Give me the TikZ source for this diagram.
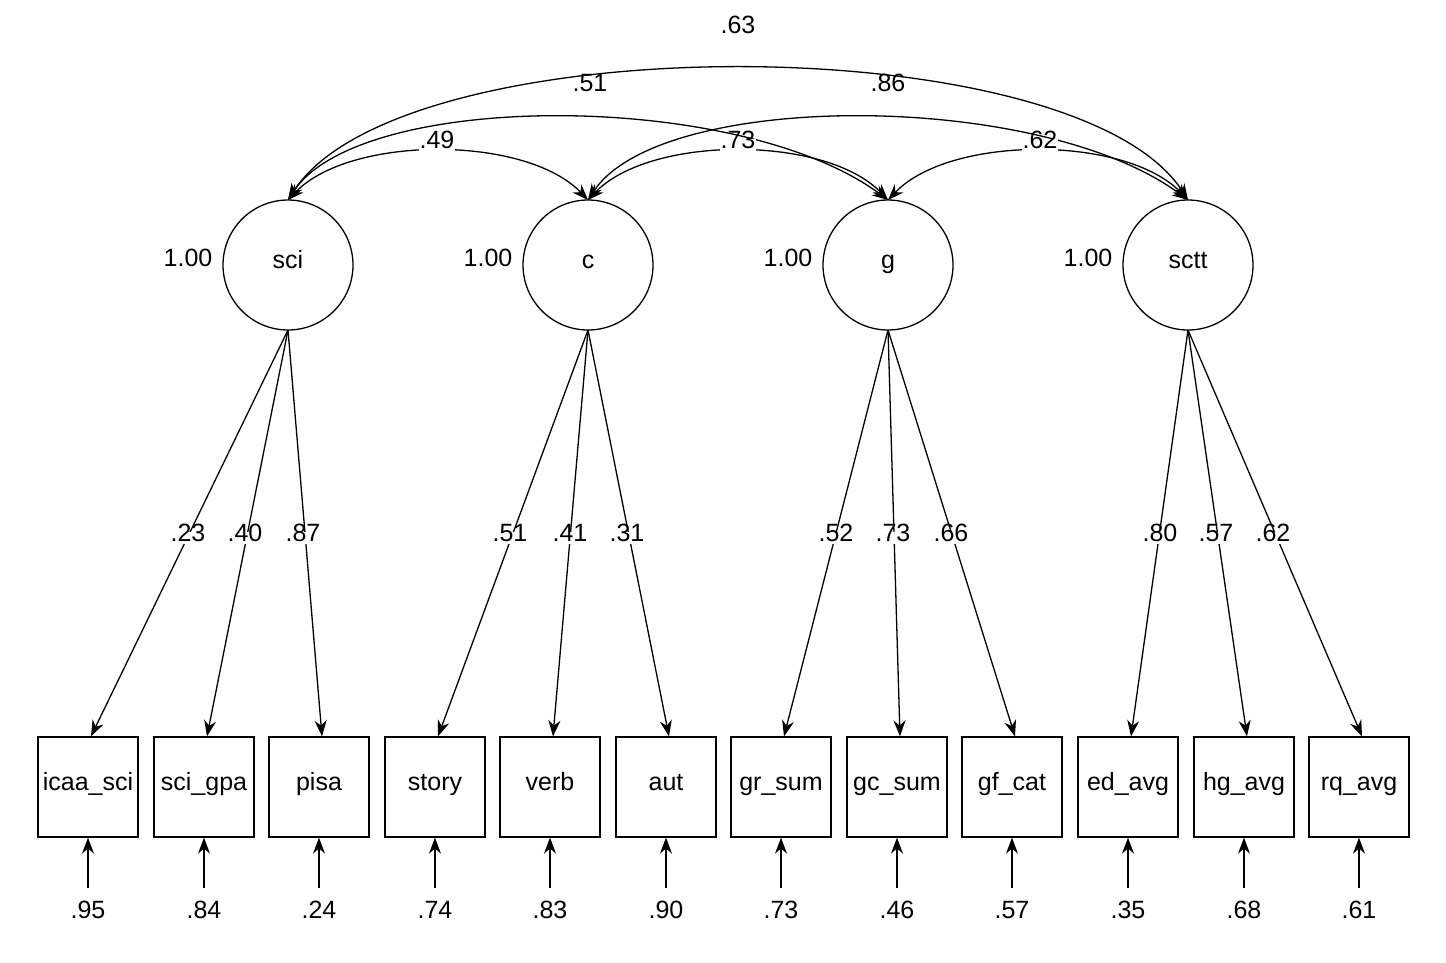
\documentclass[tikz,border=0pt]{standalone}
\usepackage{fontspec}
\setmainfont{Liberation Sans}
\usetikzlibrary{arrows.meta}
\begin{document}
\begin{tikzpicture}[x=1pt,y=-1pt,
  font=\fontsize{25}{28}\selectfont,
  every node/.style={text height=1.6ex,text depth=0.45ex},
  lat/.style={circle,draw,line width=1.3pt,minimum size=130pt,inner sep=0pt},
  obs/.style={rectangle,draw,line width=1.3pt,minimum width=100pt,minimum height=100pt,inner sep=0pt},
  arr/.style={line width=1.3pt,-{Stealth[length=16pt,width=12pt]}},
  cov/.style={line width=1.3pt,{Stealth[length=16pt,width=12pt]}-{Stealth[length=16pt,width=12pt]}},
  lbl/.style={fill=white,inner sep=1pt}]
\useasboundingbox (0,0) rectangle (1446,962);
\foreach \n/\x/\t in {sci/288/sci,c/588/c,g/888/g,sctt/1188/sctt}{
  \node[lat] (\n) at (\x,265) {\t};
  \node (v\n) at (\x-100,263) {1.00};
  \coordinate (\n t) at (\x,200);
  \coordinate (\n b) at (\x,330);
}
\foreach \n/\x/\t/\e in {o1/88/icaa\_sci/.95,o2/204/sci\_gpa/.84,o3/319/pisa/.24,o4/435/story/.74,o5/550/verb/.83,o6/666/aut/.90,o7/781/gr\_sum/.73,o8/897/gc\_sum/.46,o9/1012/gf\_cat/.57,o10/1128/ed\_avg/.35,o11/1244/hg\_avg/.68,o12/1359/rq\_avg/.61}{
  \node[obs] (\n) at (\x,787) {\t};
  \node (e\n) at (\x,915) {\e};
  \coordinate (s\n) at (\x,888);
  \draw[arr] (s\n) -- (\n.south);
}
% loadings
\foreach \f/\o in {sci/o1,sci/o2,sci/o3,c/o4,c/o5,c/o6,g/o7,g/o8,g/o9,sctt/o10,sctt/o11,sctt/o12}{
  \draw[arr] (\f b) -- ([xshift=3pt]\o.north);
}
% covariances
\draw[cov] (scit) .. controls (400,25) and (1076,25) .. (scttt);
\draw[cov] (scit) .. controls (360,90) and (740,90) .. (gt);
\draw[cov] (ct) .. controls (660,90) and (1040,90) .. (scttt);
\draw[cov] (scit) .. controls (350,135) and (526,135) .. (ct);
\draw[cov] (ct) .. controls (650,135) and (826,135) .. (gt);
\draw[cov] (gt) .. controls (950,135) and (1126,135) .. (scttt);
\foreach \lx/\v in {188/.23,245/.40,303/.87,510/.51,570/.41,627/.31,836/.52,893/.73,951/.66,1160/.80,1216/.57,1273/.62}{
  \node[lbl] at (\lx,538) {\v};
}
\node[lbl] (l63) at (738,30) {.63};
\node[lbl] (l51) at (590,88) {.51};
\node[lbl] (l86) at (888,88) {.86};
\node[lbl] (l49) at (437,145) {.49};
\node[lbl] (l73) at (738,145) {.73};
\node[lbl] (l62) at (1040,145) {.62};
\end{tikzpicture}
\end{document}
